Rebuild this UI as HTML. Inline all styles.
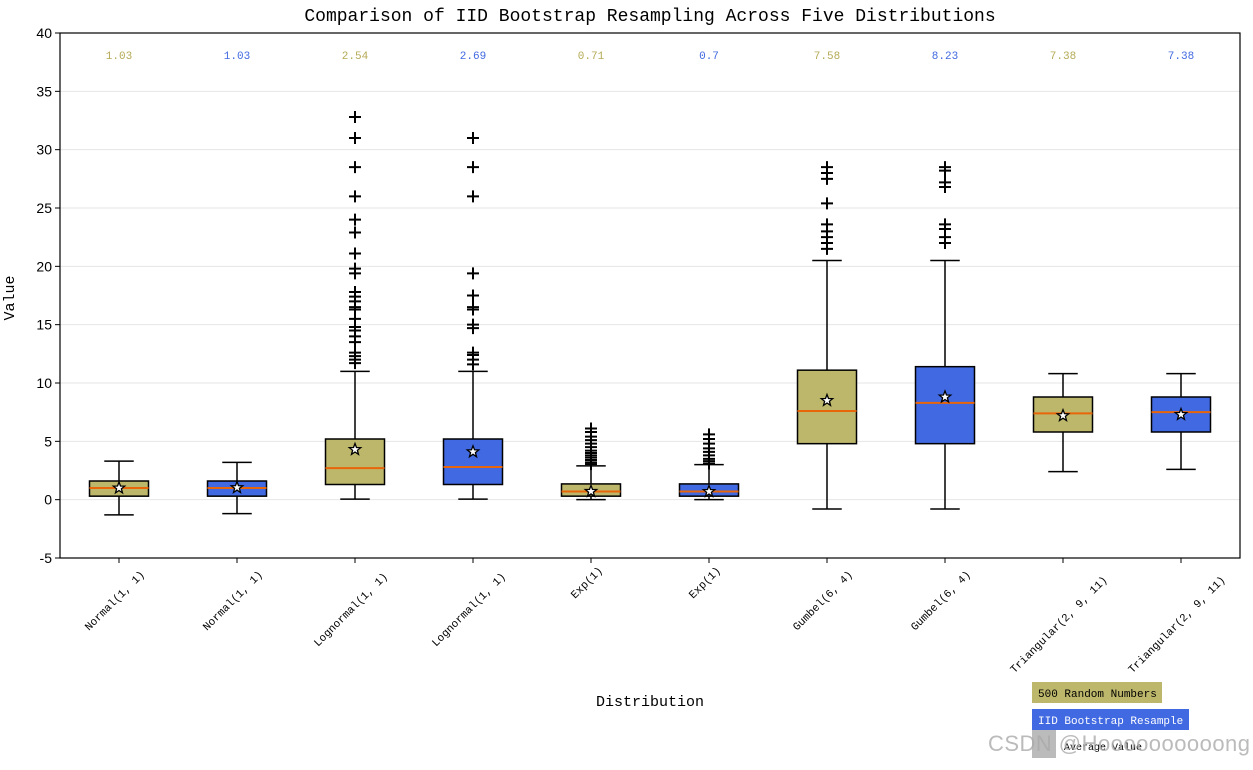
<!DOCTYPE html>
<html><head><meta charset="utf-8"><style>
body{margin:0;background:#fff;}
svg text{font-family:"Liberation Mono","Noto Sans CJK SC",monospace;}
</style></head><body>
<svg id="chart" width="1253" height="765" xmlns="http://www.w3.org/2000/svg"></svg>
<script>
const categories=["Normal(1, 1)","Normal(1, 1)","Lognormal(1, 1)","Lognormal(1, 1)","Exp(1)","Exp(1)","Gumbel(6, 4)","Gumbel(6, 4)","Triangular(2, 9, 11)","Triangular(2, 9, 11)"];
const q1s=[0.3,0.3,1.3,1.3,0.3,0.3,4.8,4.8,5.8,5.8];
const medians=[1.0,1.0,2.7,2.8,0.7,0.7,7.6,8.3,7.4,7.5];
const q3s=[1.6,1.6,5.2,5.2,1.35,1.35,11.1,11.4,8.8,8.8];
const whiskLo=[-1.3,-1.2,0.05,0.05,0,0,-0.8,-0.8,2.4,2.6];
const whiskHi=[3.3,3.2,11.0,11.0,2.9,3.0,20.5,20.5,10.8,10.8];
const means=[1.0,1.03,4.3,4.1,0.71,0.7,8.5,8.8,7.2,7.3];
const outliers=[[],[],
[32.8,31.0,28.5,26.0,24.0,22.9,21.1,19.8,19.4,17.8,17.4,17.0,16.5,16.3,15.5,14.8,14.5,14.0,13.5,12.6,12.3,12.0,11.7],
[31.0,28.5,26.0,19.4,17.5,16.5,16.3,15.0,14.7,12.6,12.4,12.0,11.6],
[6.1,5.8,5.4,5.1,4.8,4.5,4.2,4.0,3.8,3.6,3.4,3.2,3.05],
[5.6,5.2,4.8,4.4,4.1,3.8,3.5,3.3,3.1],
[28.5,28.0,27.5,25.4,23.6,23.0,22.5,22.0,21.5],
[28.5,28.2,27.2,26.8,23.6,23.2,22.5,22.0],[],[]];
const topLabels=["1.03","1.03","2.54","2.69","0.71","0.7","7.58","8.23","7.38","7.38"];
const yTicks=[-5,0,5,10,15,20,25,30,35,40];

const svg=document.getElementById('chart');
const NS="http://www.w3.org/2000/svg";
const L=60,R=1240,T=33,B=558,ymin=-5,ymax=40;
const y=v=>B-(v-ymin)/(ymax-ymin)*(B-T);
const x=i=>L+(R-L)/categories.length*(i+0.5);
const bw=(R-L)/categories.length*0.5;
function mk(tag,attrs,name,parent){const e=document.createElementNS(NS,tag);for(const k in attrs)e.setAttribute(k,attrs[k]);


(parent||svg).appendChild(e);return e;}
yTicks.forEach(t=>{mk('line',{x1:L,x2:R,y1:y(t),y2:y(t),stroke:'#e6e6e6','stroke-width':1},'grid-line');
mk('line',{x1:L-5,x2:L,y1:y(t),y2:y(t),stroke:'#000'},'y-tick');
const tx=mk('text',{x:L-8,y:y(t)+5,'text-anchor':'end','font-size':14,style:'font-family:"Liberation Sans",sans-serif'},'y-tick-label');tx.textContent=t;});
const cols=['#bdb76b','#4169e1'];
categories.forEach((c,i)=>{
 const cx=x(i),g=mk('g',{},'box-'+(i+1));
 mk('line',{x1:cx,x2:cx,y1:y(whiskLo[i]),y2:y(q1s[i]),stroke:'#000','stroke-width':1.5},'whisker-low',g);
 mk('line',{x1:cx,x2:cx,y1:y(whiskHi[i]),y2:y(q3s[i]),stroke:'#000','stroke-width':1.5},'whisker-high',g);
 mk('line',{x1:cx-bw/4,x2:cx+bw/4,y1:y(whiskLo[i]),y2:y(whiskLo[i]),stroke:'#000','stroke-width':1.5},'cap-low',g);
 mk('line',{x1:cx-bw/4,x2:cx+bw/4,y1:y(whiskHi[i]),y2:y(whiskHi[i]),stroke:'#000','stroke-width':1.5},'cap-high',g);
 mk('rect',{x:cx-bw/2,y:y(q3s[i]),width:bw,height:y(q1s[i])-y(q3s[i]),fill:cols[i%2],stroke:'#000','stroke-width':1.5},'box-body',g);
 mk('line',{x1:cx-bw/2,x2:cx+bw/2,y1:y(medians[i]),y2:y(medians[i]),stroke:'#e8650a','stroke-width':2},'median-line',g);
 outliers[i].forEach(o=>{const oy=y(o);mk('path',{d:`M${cx-6},${oy}H${cx+6}M${cx},${oy-6}V${oy+6}`,stroke:'#000','stroke-width':2},'outlier',g);});
 const my=y(means[i]);let pts=[];for(let k=0;k<10;k++){const r=k%2?2.5:6,a=-Math.PI/2+k*Math.PI/5;pts.push((cx+r*Math.cos(a)).toFixed(1)+','+(my+r*Math.sin(a)).toFixed(1));}
 mk('polygon',{points:pts.join(' '),fill:'#fff',stroke:'#000','stroke-width':1.3},'mean-marker',g);
 const tl=mk('text',{x:cx,y:59,'text-anchor':'middle','font-size':11,fill:i%2?'#4169e1':'#b5aa55'},'mean-label');tl.textContent=topLabels[i];
 mk('line',{x1:cx,x2:cx,y1:B,y2:B+5,stroke:'#000'},'x-tick');
 const xl=mk('text',{x:0,y:0,'text-anchor':'middle','font-size':11,transform:`translate(${cx-2},${603+(c.length-12)*3}) rotate(-45)`},'x-tick-label');xl.textContent=c;
});
mk('rect',{x:L,y:T,width:R-L,height:B-T,fill:'none',stroke:'#000','stroke-width':1.2},'plot-frame');
let t=mk('text',{x:650,y:21,'text-anchor':'middle','font-size':18},'chart-title');t.textContent='Comparison of IID Bootstrap Resampling Across Five Distributions';
t=mk('text',{x:650,y:706,'text-anchor':'middle','font-size':15},'x-axis-title');t.textContent='Distribution';
t=mk('text',{x:0,y:0,'text-anchor':'middle','font-size':15,transform:'translate(14,298) rotate(-90)'},'y-axis-title');t.textContent='Value';
const lg=mk('g',{},'legend');
mk('rect',{x:1032,y:682,width:130,height:21,fill:'#bdb76b'},'legend-swatch-random',lg);
t=mk('text',{x:1038,y:697,'font-size':11},'legend-label-random',lg);t.textContent='500 Random Numbers';
mk('rect',{x:1032,y:709,width:157,height:21,fill:'#4169e1'},'legend-swatch-bootstrap',lg);
t=mk('text',{x:1038,y:724,'font-size':11,fill:'#fff'},'legend-label-bootstrap',lg);t.textContent='IID Bootstrap Resample';
mk('rect',{x:1032,y:730,width:24,height:28,fill:'#bbb'},'legend-swatch-mean',lg);
t=mk('text',{x:1064,y:750,'font-size':10},'legend-label-mean',lg);t.textContent='Average Value';
t=mk('text',{x:988,y:751,'font-size':22,fill:'#aaa','fill-opacity':0.8,textLength:262,style:'font-family:"Liberation Sans",sans-serif'},'watermark');t.textContent='CSDN @Hoooooooooong';
</script>
</body></html>
